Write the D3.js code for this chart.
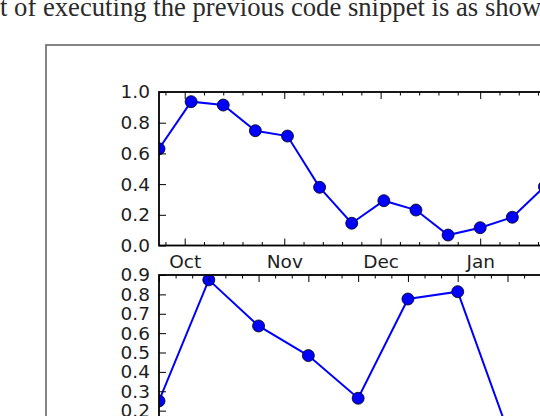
<!DOCTYPE html>
<html>
<head>
<meta charset="utf-8">
<script src="https://cdn.jsdelivr.net/npm/d3@7"></script>
<style>
  body { margin: 0; background: #fff; }
  svg { display: block; }
</style>
</head>
<body>
<div id="chart"></div>
<script>
// values
var pageText = "t of executing the previous code snippet is as shown";
var topDates = ["2008-09-23", "2008-10-03", "2008-10-13", "2008-10-23", "2008-11-02", "2008-11-12",
                "2008-11-22", "2008-12-02", "2008-12-12", "2008-12-22", "2009-01-01", "2009-01-11", "2009-01-21"];
var topValues = [0.63, 0.937, 0.915, 0.748, 0.713, 0.379, 0.145, 0.292, 0.231, 0.068, 0.116, 0.184, 0.383];
var bottomIndex = [0, 1, 2, 3, 4, 5, 6, 7];
var bottomValues = [0.25, 0.875, 0.637, 0.484, 0.264, 0.776, 0.814, 0.10];
var topYTicks = [0, 0.2, 0.4, 0.6, 0.8, 1.0];
var bottomYTicks = [0.2, 0.3, 0.4, 0.5, 0.6, 0.7, 0.8, 0.9];   // lower ones fall below the crop
var monthLabels = ["Oct", "Nov", "Dec", "Jan"];                 // later months fall right of the crop

var svgW = 540, svgH = 416;
var parse = d3.timeParse("%Y-%m-%d");

var svg = d3.select('#chart').append('svg')
    .attr('width', svgW)
    .attr('height', svgH);

svg.append('rect').attr('width', svgW).attr('height', svgH).attr('fill', '#fff');

// bit of book text above the figure
var para = svg.append('text')
    .attr('x', 0)
    .attr('y', 16)
    .attr('font-family', 'Liberation Serif, serif')
    .attr('font-size', 21)
    .attr('fill', '#2a2a2a')
    .text(pageText);
// fit so "...as sho" ends near x=522, "w" cut by the edge
var w = para.node().getSubStringLength(0, pageText.length - 2);
para.attr('font-size', 21 * 522 / w);

// figure frame
svg.append('rect')
    .attr('x', 46).attr('y', 45)
    .attr('width', 700).attr('height', 500)
    .attr('fill', 'none')
    .attr('stroke', '#707070')
    .attr('stroke-width', 1.7);

var axL = 159, axR = 856;
var top1 = 92, bot1 = 245.5;
var top2 = 275, bot2 = 449.4;

var font = 'DejaVu Sans, sans-serif';

function styleAxis(g) {
    g.select('.domain').remove();
    g.selectAll('line').attr('stroke', '#000').attr('stroke-width', 1);
    g.selectAll('text').attr('font-family', font).attr('font-size', 18.5).attr('fill', '#1e1e1e');
}

// ---------- top panel ----------
var start = parse(topDates[0]);
var xscale = d3.scaleTime()
    .domain([start, d3.timeDay.offset(start, 217)])
    .range([axL, axR]);
var yscale = d3.scaleLinear().domain([0, 1]).range([bot1, top1]);

var clip1 = svg.append('clipPath').attr('id', 'clip1');
clip1.append('rect').attr('x', axL).attr('y', top1).attr('width', axR - axL).attr('height', bot1 - top1);

var p1 = svg.append('g').attr('clip-path', 'url(#clip1)');
var line1 = d3.line()
    .x(function (d, i) { return xscale(parse(topDates[i])); })
    .y(function (d) { return yscale(d); });
p1.append('path')
    .datum(topValues)
    .attr('d', line1)
    .attr('fill', 'none')
    .attr('stroke', '#0000ff')
    .attr('stroke-width', 2);
p1.selectAll('circle')
    .data(topValues)
    .enter()
    .append('circle')
    .attr('cx', function (d, i) { return xscale(parse(topDates[i])); })
    .attr('cy', function (d) { return yscale(d); })
    .attr('r', 6)
    .attr('fill', '#0000ff')
    .attr('stroke', '#000')
    .attr('stroke-width', 0.8);

var months = d3.timeMonth.range(d3.timeMonth.ceil(start), xscale.domain()[1]);
var minorDays = [];
d3.timeMonth.range(d3.timeMonth.floor(start), xscale.domain()[1]).forEach(function (m) {
    [6, 12, 18, 24].forEach(function (k) {
        var d = d3.timeDay.offset(m, k);
        if (d >= start && d <= xscale.domain()[1]) minorDays.push(d);
    });
});

var xBottom1 = svg.append('g')
    .attr('transform', `translate(0,${bot1})`)
    .call(d3.axisBottom(xscale).tickValues(months).tickSizeInner(-7).tickSizeOuter(0).tickPadding(9)
        .tickFormat(function (d, i) { return monthLabels[i] || ''; }));
styleAxis(xBottom1);
xBottom1.selectAll('text').filter(function () { return d3.select(this).text() == ''; }).remove();
styleAxis(svg.append('g').attr('transform', `translate(0,${bot1})`)
    .call(d3.axisBottom(xscale).tickValues(minorDays).tickSizeInner(-3.5).tickSizeOuter(0).tickFormat('')));
styleAxis(svg.append('g').attr('transform', `translate(0,${top1})`)
    .call(d3.axisTop(xscale).tickValues(months).tickSizeInner(-7).tickSizeOuter(0).tickFormat('')));
styleAxis(svg.append('g').attr('transform', `translate(0,${top1})`)
    .call(d3.axisTop(xscale).tickValues(minorDays).tickSizeInner(-3.5).tickSizeOuter(0).tickFormat('')));
styleAxis(svg.append('g').attr('transform', `translate(${axL},0)`)
    .call(d3.axisLeft(yscale).tickValues(topYTicks).tickSizeInner(-7).tickSizeOuter(0).tickPadding(9)
        .tickFormat(d3.format('.1f'))));

svg.append('rect')
    .attr('x', axL).attr('y', top1)
    .attr('width', axR - axL).attr('height', bot1 - top1)
    .attr('fill', 'none').attr('stroke', '#000').attr('stroke-width', 1.8);

// ---------- bottom panel ----------
var xscale2 = d3.scaleLinear().domain([0, 14]).range([axL, axR]);
var yscale2 = d3.scaleLinear().domain([0, 0.9]).range([bot2, top2]);

var clip2 = svg.append('clipPath').attr('id', 'clip2');
clip2.append('rect').attr('x', axL).attr('y', top2).attr('width', axR - axL).attr('height', bot2 - top2);

var p2 = svg.append('g').attr('clip-path', 'url(#clip2)');
var line2 = d3.line()
    .x(function (d, i) { return xscale2(bottomIndex[i]); })
    .y(function (d) { return yscale2(d); });
p2.append('path')
    .datum(bottomValues)
    .attr('d', line2)
    .attr('fill', 'none')
    .attr('stroke', '#0000ff')
    .attr('stroke-width', 2);
p2.selectAll('circle')
    .data(bottomValues)
    .enter()
    .append('circle')
    .attr('cx', function (d, i) { return xscale2(bottomIndex[i]); })
    .attr('cy', function (d) { return yscale2(d); })
    .attr('r', 6)
    .attr('fill', '#0000ff')
    .attr('stroke', '#000')
    .attr('stroke-width', 0.8);

var major2 = d3.range(0, 15);
var minor2 = [];
major2.forEach(function (k) { if (k < 14) { minor2.push(k + 1 / 3); minor2.push(k + 2 / 3); } });

styleAxis(svg.append('g').attr('transform', `translate(0,${top2})`)
    .call(d3.axisTop(xscale2).tickValues(major2).tickSizeInner(-7).tickSizeOuter(0).tickFormat('')));
styleAxis(svg.append('g').attr('transform', `translate(0,${top2})`)
    .call(d3.axisTop(xscale2).tickValues(minor2).tickSizeInner(-3.5).tickSizeOuter(0).tickFormat('')));
styleAxis(svg.append('g').attr('transform', `translate(${axL},0)`)
    .call(d3.axisLeft(yscale2).tickValues(bottomYTicks).tickSizeInner(-7).tickSizeOuter(0).tickPadding(9)
        .tickFormat(d3.format('.1f'))));

svg.append('rect')
    .attr('x', axL).attr('y', top2)
    .attr('width', axR - axL).attr('height', bot2 - top2)
    .attr('fill', 'none').attr('stroke', '#000').attr('stroke-width', 1.8);
</script>
</body>
</html>
